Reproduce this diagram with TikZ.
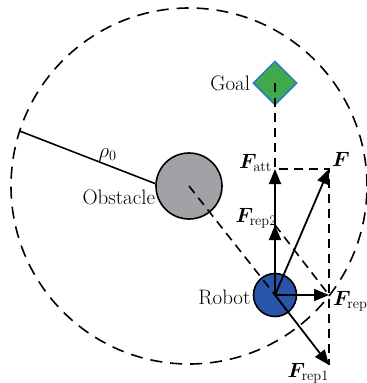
\documentclass[tikz,border=0pt]{standalone}
\usepackage{amsmath,bm}
\usetikzlibrary{shapes.geometric, arrows.meta}
\definecolor{goalgreen}{HTML}{3FA94B}
\definecolor{goalblue}{HTML}{2F78C4}
\definecolor{robotblue}{HTML}{2A54A8}
\definecolor{obsgray}{HTML}{A2A2A6}
\tikzset{
    zonecircle/.style={circle, draw, line width=1.6bp, dash pattern=on 12bp off 8bp,
                       minimum size=356bp, inner sep=0pt},
    obstdisc/.style={circle, draw, line width=1.6bp, fill=obsgray, minimum size=66bp, inner sep=0pt},
    robotdisc/.style={circle, draw, line width=1.6bp, fill=robotblue, minimum size=43bp, inner sep=0pt},
    goaldiamond/.style={diamond, draw=goalblue, line width=1.5bp, fill=goalgreen, aspect=1,
                        minimum size=44bp, inner sep=0pt},
    force/.style={-{Triangle[length=15bp, width=12bp]}, line width=1.8bp},
    guide/.style={line width=1.6bp, dash pattern=on 9bp off 6bp},
    lbl/.style={font=\fontsize{21}{24}\selectfont, inner sep=2bp},
    flbl/.style={font=\fontsize{21}{23}\selectfont, inner sep=0pt},
}
\begin{document}
\begin{tikzpicture}[x=1bp, y=-1bp]
    \useasboundingbox (0,0) rectangle (367,383);

    % ── Influence zone and obstacle ────────────────────────────────
    \node[zonecircle] (zone) at (189,186) {};
    \node[obstdisc] (obs) at (189,186) {};
    \draw[line width=1.6bp] (obs.176) -- node[lbl, above, pos=0.35, yshift=1bp] {$\rho_0$} (zone.162);
    \node[lbl, anchor=east] at (obs.200) {Obstacle};

    % ── Goal and robot ─────────────────────────────────────────────
    \node[goaldiamond] (goal) at (275,83) {};
    \node[lbl, anchor=east] at (goal.west) {Goal};
    \node[robotdisc] (robot) at (275,295) {};
    \node[lbl, anchor=east] at ([yshift=-2bp]robot.west) {Robot};

    % ── Force tips ─────────────────────────────────────────────────
    \coordinate (fatt)  at (275,169);
    \coordinate (frep2) at (275,225);
    \coordinate (frep)  at (329,295);
    \coordinate (frep1) at (329,365);
    \coordinate (ftot)  at (329,169);

    % ── Construction lines ─────────────────────────────────────────
    \draw[guide] (goal.center) -- (fatt) -- (ftot) -- (frep1);
    \draw[guide] (frep2) -- (frep);
    \draw[guide] (obs.center) -- (robot.center);

    % ── Forces ─────────────────────────────────────────────────────
    \draw[force] (robot.center) -- (fatt);
    \draw[force] (robot.center) -- (frep2);
    \draw[force] (robot.center) -- (frep);
    \draw[force] (robot.center) -- (frep1);
    \draw[force] (robot.center) -- (ftot);

    \node[flbl, anchor=base east] at ([xshift=-3bp, yshift=1bp]fatt) {$\bm{F}_{\mathrm{att}}$};
    \node[flbl, anchor=base west] at ([xshift=3bp, yshift=3bp]ftot) {$\bm{F}$};
    \node[flbl, anchor=base east] at ([xshift=2bp, yshift=3bp]frep2) {$\bm{F}_{\mathrm{rep2}}$};
    \node[flbl, anchor=base west] at ([xshift=4bp, yshift=-10bp]frep) {$\bm{F}_{\mathrm{rep}}$};
    \node[flbl, anchor=base east] at ([xshift=0bp, yshift=-12bp]frep1) {$\bm{F}_{\mathrm{rep1}}$};

\end{tikzpicture}
\end{document}
